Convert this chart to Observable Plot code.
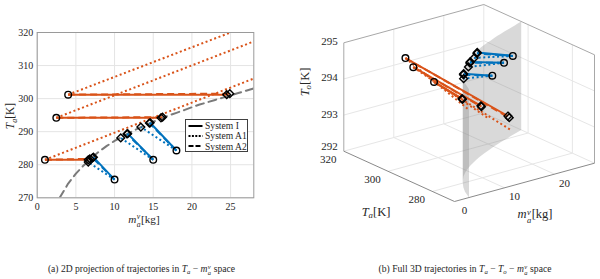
<!DOCTYPE html>
<html><head><meta charset="utf-8">
<script src="https://cdn.jsdelivr.net/npm/d3@7"></script>
<script src="https://cdn.jsdelivr.net/npm/@observablehq/plot@0.6"></script>
<style>
body{margin:0;background:#fff;}
#wrap{position:relative;width:600px;height:279px;overflow:hidden;font-family:"Liberation Serif",serif;color:#262626;}
.lab{position:absolute;white-space:nowrap;line-height:1;transform:translate(-50%,-50%);}
.rot{transform:translate(-50%,-50%) rotate(-90deg);}
.lab sub{font-size:0.7em;vertical-align:-0.3em;line-height:0;font-style:italic;}
.ss{display:inline-block;vertical-align:-0.55em;font-size:0.68em;line-height:1;font-style:italic;margin-left:0.05em;margin-right:0.05em;}
.ss span{display:block;}
#legend{position:absolute;left:185px;top:118.5px;width:63px;height:33px;border:0.8px solid #404040;background:#fff;box-sizing:border-box;font-size:9.6px;}
#legend .row{position:absolute;left:2px;height:10px;display:flex;align-items:center;}
#legend svg{margin-right:2px;}
</style></head><body><div id="wrap"></div>
<script>
// ---------- data ----------
// saturation curve (System A2 constraint), m_a^v [kg] vs T_a [K]
const satM  = [2.9, 4, 5, 6, 7, 8, 9, 10, 11, 12, 13, 14, 15, 16, 17, 18, 19, 20, 21, 22, 23, 24, 25, 26, 27, 28];
const satTa = [270, 274.3, 277.3, 279.8, 282, 284, 285.7, 287.2, 288.5, 289.8, 290.9, 292, 293, 294, 294.9, 295.7, 296.5, 297.4, 298.2, 298.9, 299.6, 300.3, 301.0, 301.7, 302.4, 303.1];

// trajectory starts (shared by all systems)
const trajGroup = ["orange", "orange", "orange", "blue", "blue", "blue"];
const startM  = [1, 2.47, 4, 10, 15, 18];
const startTa = [281.5, 294.2, 301.2, 275.5, 281.5, 284.3];
const startTo = [294.95, 294.95, 294.95, 294.95, 294.95, 294.95];

// trajectory ends per system
const endM_I   = [6.6, 16, 24.5, 7.27, 11.7, 14.6];
const endTa_I  = [281.5, 294.2, 301.2, 282.3, 289.4, 292.7];
const endTo_I  = [294.28, 293.37, 292.57, 294.92, 294.88, 294.94];

const endM_A1  = [30, 30, 27, 6.6, 10.8, 13.4];
const endTa_A1 = [307.9, 319.1, 321.8, 280.8, 288.1, 291.4];
const endTo_A1 = [291.62, 291.66, 291.94, 294.85, 294.81, 294.87];

const endM_A2  = [6.8, 16.2, 24.9, 7.15, 11.6, 14.5];
const endTa_A2 = [281.8, 294.4, 301.5, 282.1, 289.3, 292.6];
const endTo_A2 = [294.24, 293.33, 292.5, 294.9, 294.86, 294.92];

const systems = ["System I", "System A1", "System A2"];

// axes
const mDomain = [0, 28], TaDomain = [270, 320], ToDomain = [292, 295];
const mTicksA = [0, 5, 10, 15, 20, 25];
const TaTicksA = [270, 280, 290, 300, 310, 320];
const mTicks3 = [0, 10, 20];
const TaTicks3 = [280, 300, 320];
const ToTicks3 = [292, 293, 294, 295];

// ---------- styles ----------
const COLORS = {orange: "#D95319", blue: "#0072BD"};
const DASH = {"System I": null, "System A1": "2 2.6", "System A2": "7 4"};

// ---------- build rows ----------
const endsBySys = {
  "System I":  [endM_I, endTa_I, endTo_I],
  "System A1": [endM_A1, endTa_A1, endTo_A1],
  "System A2": [endM_A2, endTa_A2, endTo_A2]
};
const traj = [];
for (const s of systems) {
  const [em, et, eo] = endsBySys[s];
  startM.forEach((m, i) => traj.push({
    sys: s, color: COLORS[trajGroup[i]],
    p0: [m, startTa[i], startTo[i]], p1: [em[i], et[i], eo[i]]
  }));
}
const starts = startM.map((m, i) => ({m, Ta: startTa[i], To: startTo[i]}));
const inside = p => p[0] >= mDomain[0] && p[0] <= mDomain[1] && p[1] >= TaDomain[0] && p[1] <= TaDomain[1];
const endsA = traj.filter(d => inside(d.p1)).map(d => ({m: d.p1[0], Ta: d.p1[1]}));
const sat = satM.map((m, i) => ({m, Ta: satTa[i]}));

const wrap = document.getElementById("wrap");
const baseStyle = {fontFamily: "Liberation Serif, serif", fontSize: "10px", color: "#262626", background: "none", overflow: "visible"};

// ---------- panel (a) ----------
const linkMarks = systems.map(s => Plot.link(traj.filter(d => d.sys === s), {
  x1: d => d.p0[0], y1: d => d.p0[1], x2: d => d.p1[0], y2: d => d.p1[1],
  stroke: "color", strokeWidth: 2, strokeDasharray: DASH[s], clip: true
}));
const plotA = Plot.plot({
  width: 300, height: 230,
  marginLeft: 36.7, marginRight: 46.7, marginTop: 32, marginBottom: 32.7,
  style: baseStyle,
  x: {domain: mDomain, ticks: mTicksA, label: null, tickSize: 0, tickPadding: 5},
  y: {domain: TaDomain, ticks: TaTicksA, label: null, tickSize: 0, tickPadding: 4},
  color: {type: "identity"},
  marks: [
    Plot.gridX(mTicksA, {stroke: "#e4e4e4", strokeOpacity: 1}),
    Plot.gridY(TaTicksA, {stroke: "#e4e4e4", strokeOpacity: 1}),
    Plot.line(sat, {x: "m", y: "Ta", stroke: "#7a7a7a", strokeWidth: 2, strokeDasharray: "8 5", clip: true}),
    ...linkMarks,
    Plot.dot(starts, {x: "m", y: "Ta", r: 3.3, stroke: "black", strokeWidth: 1.4, fill: "none"}),
    Plot.dot(endsA, {x: "m", y: "Ta", symbol: "diamond2", r: 3.5, stroke: "black", strokeWidth: 1.4, fill: "none"}),
    Plot.frame({stroke: "#9a9a9a"})
  ]
});
plotA.style.position = "absolute"; plotA.style.left = "0px"; plotA.style.top = "0px";
wrap.appendChild(plotA);

// ---------- panel (b): 3D view (orthographic projection of the axes box) ----------
const VIEW = {origin: [164, 201], vM: [140, -38.3], vTa: [-110.7, -50.3], vTo: [0, -108.4]};
function P(m, Ta, To) {
  const a = (m - mDomain[0]) / (mDomain[1] - mDomain[0]);
  const b = (Ta - TaDomain[0]) / (TaDomain[1] - TaDomain[0]);
  const c = (To - ToDomain[0]) / (ToDomain[1] - ToDomain[0]);
  return [VIEW.origin[0] + a * VIEW.vM[0] + b * VIEW.vTa[0] + c * VIEW.vTo[0],
          VIEW.origin[1] + a * VIEW.vM[1] + b * VIEW.vTa[1] + c * VIEW.vTo[1]];
}
function clip3(p0, p1) {
  const lo = [mDomain[0], TaDomain[0], ToDomain[0]], hi = [mDomain[1], TaDomain[1], ToDomain[1]];
  let t0 = 0, t1 = 1;
  for (let k = 0; k < 3; k++) {
    const d = p1[k] - p0[k];
    for (const [p, q] of [[-d, p0[k] - lo[k]], [d, hi[k] - p0[k]]]) {
      if (p === 0) { if (q < 0) return null; }
      else {
        const r = q / p;
        if (p < 0) { if (r > t1) return null; if (r > t0) t0 = r; }
        else { if (r < t0) return null; if (r < t1) t1 = r; }
      }
    }
  }
  const L = t => p0.map((v, k) => v + t * (p1[k] - v));
  return {a: L(t0), b: L(t1), full: t1 === 1};
}
const seg = (a, b, extra = {}) => { const A = P(...a), B = P(...b); return {x1: A[0], y1: A[1], x2: B[0], y2: B[1], ...extra}; };

const [m0, m1] = mDomain, [T0, T1] = TaDomain, [o0, o1] = ToDomain;
const grid3 = [
  ...TaTicks3.filter(t => t < T1).map(t => seg([m0, t, o0], [m1, t, o0])),
  ...mTicks3.filter(m => m > m0).map(m => seg([m, T0, o0], [m, T1, o0])),
  ...mTicks3.filter(m => m > m0).map(m => seg([m, T1, o0], [m, T1, o1])),
  ...ToTicks3.filter(t => t > o0 && t < o1).map(t => seg([m0, T1, t], [m1, T1, t])),
  ...TaTicks3.filter(t => t < T1).map(t => seg([m1, t, o0], [m1, t, o1])),
  ...ToTicks3.filter(t => t > o0 && t < o1).map(t => seg([m1, T0, t], [m1, T1, t])),
  seg([m0, T1, o0], [m1, T1, o0]), seg([m1, T1, o0], [m1, T0, o0]), seg([m1, T1, o0], [m1, T1, o1])
];
const edges3 = [
  seg([m0, T1, o0], [m0, T1, o1]), seg([m0, T1, o1], [m1, T1, o1]),
  seg([m1, T1, o1], [m1, T0, o1]), seg([m1, T0, o0], [m1, T0, o1])
];
const axes3 = [seg([m0, T0, o0], [m1, T0, o0]), seg([m0, T0, o0], [m0, T1, o0])];

// saturation surface, split at the fold of its projection
const bottomPts = satM.map((m, i) => P(m, satTa[i], o0));
const topPts = satM.map((m, i) => P(m, satTa[i], o1));
const kFold = d3.minIndex(bottomPts, d => d[0]);
const surf = [];
const addPart = (i0, i1, id) => {
  for (let i = i0; i <= i1; i++) surf.push({x: bottomPts[i][0], y: bottomPts[i][1], part: id});
  for (let i = i1; i >= i0; i--) surf.push({x: topPts[i][0], y: topPts[i][1], part: id});
};
addPart(0, kFold, "A"); addPart(kFold, satM.length - 1, "B");

const traj3 = traj.map(d => ({...d, c: clip3(d.p0, d.p1)})).filter(d => d.c);
const linkMarks3 = systems.map(s => Plot.link(traj3.filter(d => d.sys === s).map(d => seg(d.c.a, d.c.b, {color: d.color})), {
  x1: "x1", y1: "y1", x2: "x2", y2: "y2", stroke: "color", strokeWidth: 2, strokeDasharray: DASH[s]
}));
const starts3 = starts.map(d => P(d.m, d.Ta, d.To));
const ends3 = traj3.filter(d => d.c.full).map(d => P(...d.p1));

const toLabels = ToTicks3.map(t => { const p = P(m0, T1, t); return {x: p[0] - 6, y: p[1] - (t === o0 ? 4.5 : 1), text: String(t)}; });
const taLabels = TaTicks3.map(t => { const p = P(m0, t, o0); return {x: p[0] - 15.5, y: p[1] + 8.5, text: String(t)}; });
const mLabels = mTicks3.map(m => { const p = P(m, T0, o0); return {x: p[0] + 10, y: p[1] + 9, text: String(m)}; });

const plotB = Plot.plot({
  width: 310, height: 230, margin: 0,
  style: {...baseStyle, fontSize: "11px"},
  x: {type: "linear", domain: [0, 310], range: [0, 310], axis: null},
  y: {type: "linear", domain: [0, 230], range: [0, 230], axis: null},
  color: {type: "identity"},
  marks: [
    Plot.link(grid3, {x1: "x1", y1: "y1", x2: "x2", y2: "y2", stroke: "#e6e6e6", strokeWidth: 1}),
    Plot.link(edges3, {x1: "x1", y1: "y1", x2: "x2", y2: "y2", stroke: "#a8a8a8", strokeWidth: 1}),
    Plot.link(axes3, {x1: "x1", y1: "y1", x2: "x2", y2: "y2", stroke: "#8a8a8a", strokeWidth: 1}),
    Plot.line(surf, {x: "x", y: "y", z: "part", fill: "#808080", fillOpacity: 0.3, stroke: "none"}),
    ...linkMarks3,
    Plot.dot(starts3, {x: d => d[0], y: d => d[1], r: 3.3, stroke: "black", strokeWidth: 1.4, fill: "none"}),
    Plot.dot(ends3, {x: d => d[0], y: d => d[1], symbol: "diamond2", r: 3.5, stroke: "black", strokeWidth: 1.4, fill: "none"}),
    Plot.text(toLabels, {x: "x", y: "y", text: "text", textAnchor: "end", fill: "#262626"}),
    Plot.text(taLabels, {x: "x", y: "y", text: "text", textAnchor: "middle", fill: "#262626"}),
    Plot.text(mLabels, {x: "x", y: "y", text: "text", textAnchor: "middle", fill: "#262626"})
  ]
});
plotB.style.position = "absolute"; plotB.style.left = "290px"; plotB.style.top = "0px";
wrap.appendChild(plotB);

// ---------- labels, legend, captions ----------
const TA = '<i>T</i><sub>a</sub>', TO = '<i>T</i><sub>o</sub>';
const MAV = '<i>m</i><span class="ss"><span>v</span><span>a</span></span>';
function label(html, cx, cy, size, rot) {
  const d = document.createElement("div");
  d.className = "lab" + (rot ? " rot" : "");
  d.style.left = cx + "px"; d.style.top = cy + "px"; d.style.fontSize = size + "px";
  d.innerHTML = html; wrap.appendChild(d);
}
label(TA + '[K]', 11, 116, 11.5, true);
label(MAV + '[kg]', 144, 221, 11.2, false);
label(TO + '[K]', 305, 82, 12.5, true);
label(TA + '[K]', 376, 212, 12.5, false);
label(MAV + '[kg]', 535, 215.5, 12.5, false);
label('(a) 2D projection of trajectories in ' + TA + ' − ' + MAV + ' space', 141.5, 270.5, 9.6, false);
label('(b) Full 3D trajectories in ' + TA + ' − ' + TO + ' − ' + MAV + ' space', 465, 270.5, 9.6, false);

const leg = document.createElement("div"); leg.id = "legend";
const rowsY = [1, 11, 21.5];
systems.forEach((s, i) => {
  const r = document.createElement("div"); r.className = "row"; r.style.top = rowsY[i] + "px";
  r.innerHTML = `<svg width="15" height="6"><line x1="0.5" y1="3" x2="14.5" y2="3" stroke="black" stroke-width="2" ${DASH[s] ? `stroke-dasharray="${s === "System A1" ? "2 1.4" : "5 2"}"` : ""}/></svg><span>${s}</span>`;
  leg.appendChild(r);
});
wrap.appendChild(leg);
</script></body></html>
